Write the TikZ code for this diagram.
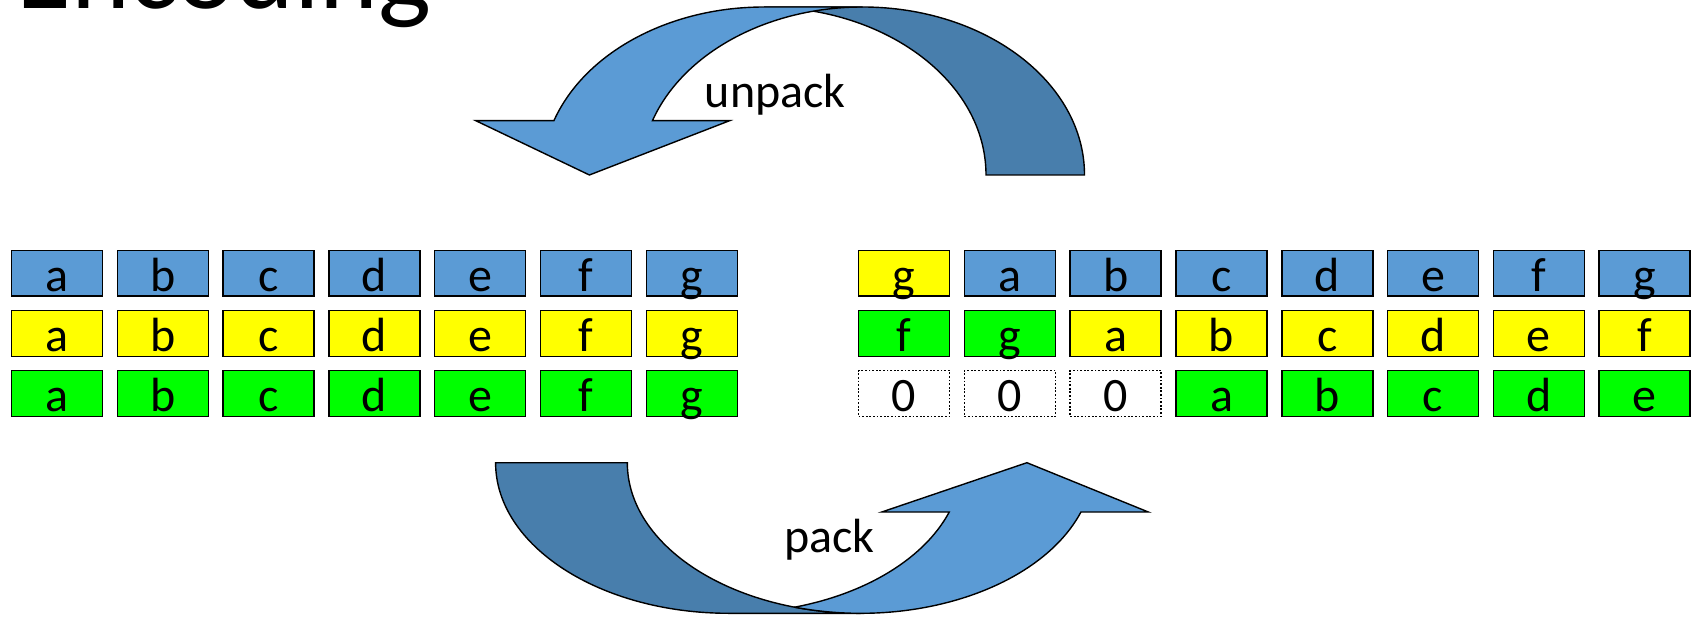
\documentclass[tikz,border=0pt]{standalone}
\usepackage{fontspec}
\setmainfont{Carlito}
\definecolor{cblue}{RGB}{91,155,213}
\definecolor{cyel}{RGB}{255,255,0}
\definecolor{cgreen}{RGB}{0,255,0}
\definecolor{cdark}{RGB}{72,126,172}
\begin{document}
\begin{tikzpicture}[x=1pt,y=1pt,
  cell/.style={draw=black, line width=1.5pt, minimum width=91pt, minimum height=45.7pt,
    inner sep=0pt, text height=41.2pt, text depth=4.5pt, font=\fontsize{48}{48}\selectfont},
  zerocell/.style={cell, draw=black, line width=1.5pt, dash pattern=on 1.8pt off 1.8pt, fill=white},
  lightarr/.style={fill=cblue, draw=black, line width=1.4pt, line join=miter},
  darkarr/.style={fill=cdark, draw=black, line width=1.4pt, line join=miter},
  lbl/.style={anchor=base, inner sep=0pt, font=\fontsize{48}{48}\selectfont}]
\useasboundingbox (0,0) rectangle (1696,616);
\clip (0,0) rectangle (1696,616);
\fill[white] (0,0) rectangle (1696,616);

% title (partly cut off at the top, as in the reference)
\node[anchor=base, inner sep=0pt, font=\fontsize{112}{112}\selectfont] (title) at (224,607.7) {Encoding};

% ---------- unpack arrow (top) ----------
\filldraw[darkarr] (764,609) -- (862.5,609)
  arc[start angle=90, end angle=0, x radius=222pt, y radius=168pt]
  -- (986,441)
  arc[start angle=0, end angle=90, x radius=222pt, y radius=168pt] -- cycle;
\filldraw[lightarr] (475.8,495.3) -- (553.91,495.3)
  arc[start angle=161.14, end angle=90, x radius=222pt, y radius=168pt]
  -- (862.5,609)
  arc[start angle=90, end angle=161.14, x radius=222pt, y radius=168pt]
  -- (729.6,495.3) -- (589.4,441) -- cycle;
\node[lbl] (unpack) at (775.3,508.3) {unpack};

% ---------- pack arrow (bottom) ----------
\filldraw[darkarr] (495.6,153.3)
  arc[start angle=180, end angle=270, x radius=233.25pt, y radius=150.6pt]
  -- (860.57,2.7)
  arc[start angle=270, end angle=180, x radius=233.25pt, y radius=150.6pt] -- cycle;
\filldraw[lightarr] (794.71,8.83)
  arc[start angle=253.6, end angle=340.89, x radius=233.25pt, y radius=150.6pt]
  -- (1148.3,104) -- (1026.9,153.3) -- (881.8,104) -- (949.25,104)
  arc[start angle=340.89, end angle=286.4, x radius=233.25pt, y radius=150.6pt] -- cycle;
\node[lbl] (pack) at (829.35,64) {pack};

% ---------- left grid ----------
\foreach \l [count=\i from 0] in {a,b,c,d,e,f,g} {
  \node[cell, fill=cblue]  (L-0-\i) at ({57+105.8*\i},342.7) {\l};
  \node[cell, fill=cyel]   (L-1-\i) at ({57+105.8*\i},282.55) {\l};
  \node[cell, fill=cgreen] (L-2-\i) at ({57+105.8*\i},222.4) {\l};
}

% ---------- right grid ----------
\foreach \l/\c [count=\i from 0] in {g/cyel,a/cblue,b/cblue,c/cblue,d/cblue,e/cblue,f/cblue,g/cblue} {
  \node[cell, fill=\c] (R-0-\i) at ({904.1+105.8*\i},342.7) {\l};
}
\foreach \l/\c [count=\i from 0] in {f/cgreen,g/cgreen,a/cyel,b/cyel,c/cyel,d/cyel,e/cyel,f/cyel} {
  \node[cell, fill=\c] (R-1-\i) at ({904.1+105.8*\i},282.55) {\l};
}
\foreach \i in {0,1,2} {
  \node[zerocell] (R-2-\i) at ({904.1+105.8*\i},222.4) {0};
}
\foreach \l [count=\i from 3] in {a,b,c,d,e} {
  \node[cell, fill=cgreen] (R-2-\i) at ({904.1+105.8*\i},222.4) {\l};
}
\end{tikzpicture}
\end{document}
